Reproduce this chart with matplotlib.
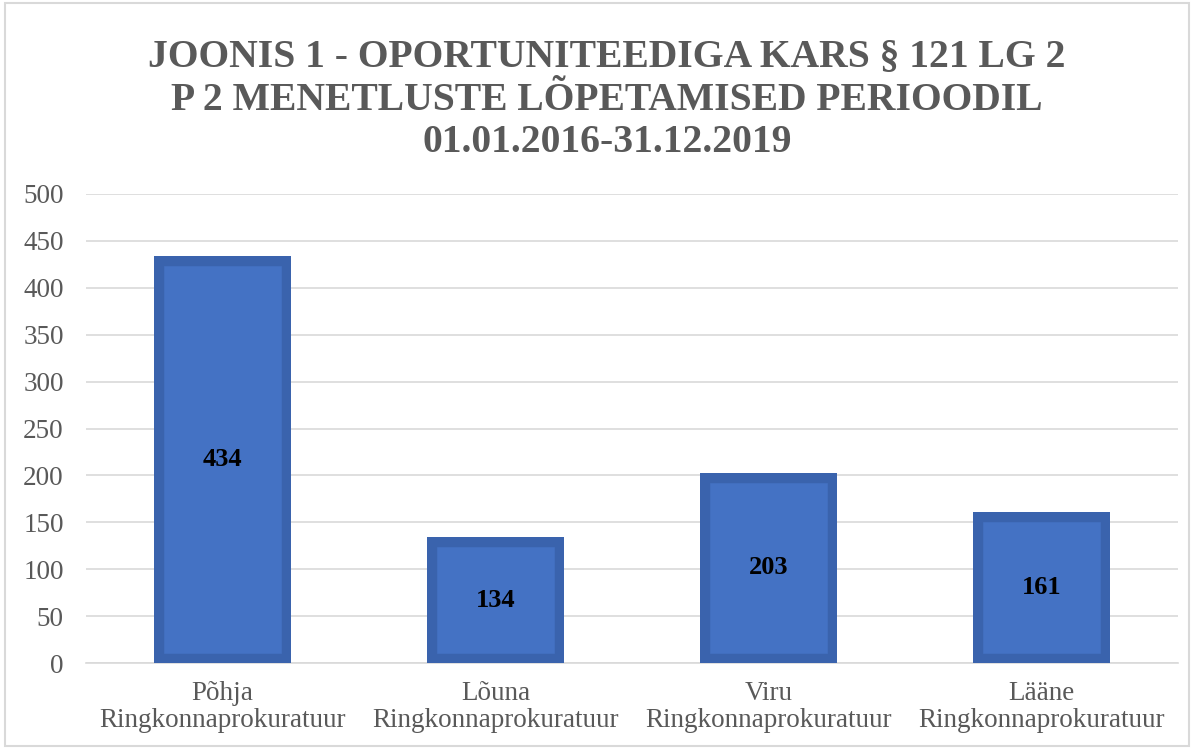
import matplotlib
matplotlib.use("Agg")
import matplotlib.pyplot as plt
from matplotlib.patches import Rectangle

categories = ["Põhja\nRingkonnaprokuratuur", "Lõuna\nRingkonnaprokuratuur",
              "Viru\nRingkonnaprokuratuur", "Lääne\nRingkonnaprokuratuur"]
values = [434, 134, 203, 161]
yticks = [0, 50, 100, 150, 200, 250, 300, 350, 400, 450, 500]
title = "JOONIS 1 - OPORTUNITEEDIGA KARS § 121 LG 2\nP 2 MENETLUSTE LÕPETAMISED PERIOODIL\n01.01.2016-31.12.2019"

plt.rcParams['font.family'] = ['Liberation Serif', 'DejaVu Serif']

fig = plt.figure(figsize=(11.94, 7.49), dpi=100)
fig.patches.append(Rectangle((0.004, 0.004), 0.992, 0.992, transform=fig.transFigure,
                             fill=False, edgecolor='#D9D9D9', linewidth=1.5))
ax = fig.add_axes([0.0720, 0.1148, 0.9146, 0.6262])

x = range(len(categories))
bars = ax.bar(x, values, width=0.5, color='#4472C4', edgecolor='#3A63AD', linewidth=14, zorder=3)
for b in bars:
    b.set_clip_path(b)
for i, v in zip(x, values):
    ax.text(i, v / 2, str(v), ha='center', va='center', fontsize=19, fontweight='bold',
            color='black', zorder=4)

ax.set_xlim(-0.5, len(categories) - 0.5)
ax.set_ylim(0, 500)
ax.set_yticks(yticks)
ax.set_xticks(list(x))
ax.set_xticklabels(categories, fontsize=19.5, color='#595959', linespacing=1.1)
ax.tick_params(axis='y', labelsize=19.5, labelcolor='#595959', length=0, pad=16)
ax.tick_params(axis='x', length=0, pad=13)
ax.grid(axis='y', color='#D9D9D9', linewidth=1.2, zorder=0)
for s in ['top', 'right', 'left']:
    ax.spines[s].set_visible(False)
ax.spines['bottom'].set_color('#D9D9D9')
ax.spines['bottom'].set_linewidth(1.2)

fig.text(0.5085, 0.948, title, ha='center', va='top', fontsize=28.5, fontweight='bold',
         color='#595959', linespacing=1.2)

fig.savefig("out.png", dpi=100)
